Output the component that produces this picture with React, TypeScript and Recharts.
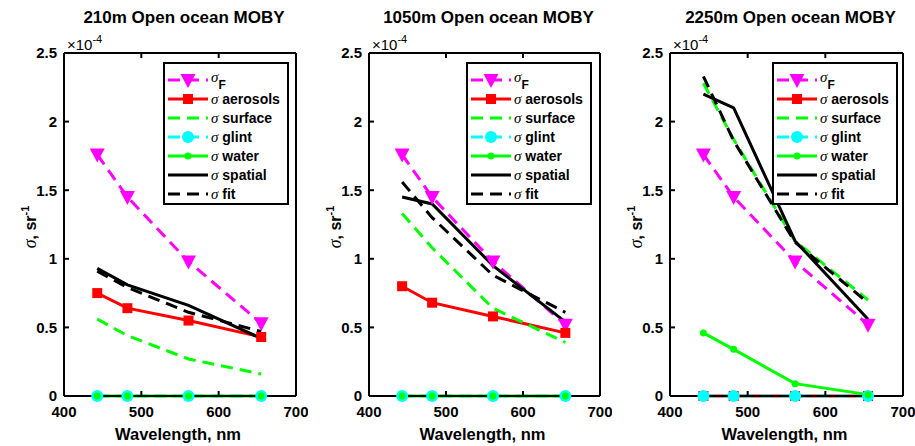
import React from 'react'
import { LineChart, Line, XAxis, YAxis, Legend } from 'recharts'

// wavelengths, nm
const wavelengths = [443, 482, 561, 655]

// all values in units of 1e-4 sr^-1
const sigmaF210 = [1.76, 1.45, 0.98, 0.53]
const aerosols210 = [0.75, 0.64, 0.55, 0.43]
const surface210 = [0.56, 0.44, 0.27, 0.16]
const glint210 = [0, 0, 0, 0]
const water210 = [0, 0, 0, 0]
const spatial210 = [0.93, 0.81, 0.66, 0.42]
const fit210 = [0.91, 0.79, 0.61, 0.47]

const sigmaF1050 = [1.76, 1.45, 0.98, 0.52]
const aerosols1050 = [0.8, 0.68, 0.58, 0.46]
const surface1050 = [1.33, 1.08, 0.64, 0.39]
const glint1050 = [0, 0, 0, 0]
const water1050 = [0, 0, 0, 0]
const spatial1050 = [1.45, 1.4, 0.95, 0.54]
const fit1050 = [1.56, 1.3, 0.88, 0.61]

const sigmaF2250 = [1.76, 1.45, 0.98, 0.52]
const aerosols2250 = [0, 0, 0, 0]
const surface2250 = [2.28, 1.87, 1.13, 0.7]
const glint2250 = [0, 0, 0, 0]
const water2250 = [0.46, 0.34, 0.09, 0.01]
const spatial2250 = [2.2, 2.1, 1.13, 0.56]
const fit2250 = [2.33, 1.86, 1.12, 0.68]

const xTicks = [400, 500, 600, 700]
const yTicks = [0, 0.5, 1, 1.5, 2, 2.5]

const SANS = '"Liberation Sans", Arial, sans-serif'
const SERIF = '"Liberation Serif", "Times New Roman", serif'
const DASH = '12 7'

type Marker = 'tri' | 'square' | 'circle' | 'dot' | 'none'
const series: { key: string; name: string; sub?: string; color: string; dash?: string; marker: Marker }[] = [
  { key: 'F', name: '', sub: 'F', color: '#ff00ff', dash: DASH, marker: 'tri' },
  { key: 'aer', name: 'aerosols', color: '#ff0000', marker: 'square' },
  { key: 'surf', name: 'surface', color: '#00ff00', dash: DASH, marker: 'none' },
  { key: 'glint', name: 'glint', color: '#00ffff', dash: DASH, marker: 'circle' },
  { key: 'water', name: 'water', color: '#00ff00', marker: 'dot' },
  { key: 'spatial', name: 'spatial', color: '#000000', marker: 'none' },
  { key: 'fit', name: 'fit', color: '#000000', dash: DASH, marker: 'none' },
]

function markerShape(m: Marker, cx: number, cy: number, color: string, key?: string) {
  if (m === 'tri')
    return <polygon key={key} points={`${cx - 7.5},${cy - 6} ${cx + 7.5},${cy - 6} ${cx},${cy + 8}`} fill={color} />
  if (m === 'square') return <rect key={key} x={cx - 5} y={cy - 5} width={10} height={10} fill={color} />
  if (m === 'circle') return <circle key={key} cx={cx} cy={cy} r={6} fill={color} />
  if (m === 'dot') return <circle key={key} cx={cx} cy={cy} r={3.5} fill={color} />
  return <g key={key} />
}

function LegendBox() {
  return (
    <svg width={126} height={143} style={{ display: 'block' }}>
      <rect x={1} y={1} width={124} height={141} fill="#fff" stroke="#000" strokeWidth={2} />
      {series.map((s, i) => {
        const y = 18 + i * 19
        return (
          <g key={s.key}>
            <line x1={5} x2={45} y1={y} y2={y} stroke={s.color} strokeWidth={3} strokeDasharray={s.dash} />
            {markerShape(s.marker, 25, y, s.color)}
            <text x={48} y={y + 5} fontFamily={SANS} fontWeight="bold" fontSize={14} fill="#000">
              <tspan fontFamily={SERIF} fontStyle="italic" fontWeight="normal" fontSize={15} dy={s.sub ? -3 : 0}>σ</tspan>
              {s.sub ? (
                <tspan fontSize={12} dy={7}>{s.sub}</tspan>
              ) : (
                <tspan> {s.name}</tspan>
              )}
            </text>
          </g>
        )
      })}
    </svg>
  )
}

type Panel = {
  title: string
  left: number
  right: number
  legendLeft: number
  values: Record<string, number[]>
}

const panels: Panel[] = [
  {
    title: '210m Open ocean MOBY',
    left: 64,
    right: 296,
    legendLeft: 163,
    values: { F: sigmaF210, aer: aerosols210, surf: surface210, glint: glint210, water: water210, spatial: spatial210, fit: fit210 },
  },
  {
    title: '1050m Open ocean MOBY',
    left: 369,
    right: 600,
    legendLeft: 466,
    values: { F: sigmaF1050, aer: aerosols1050, surf: surface1050, glint: glint1050, water: water1050, spatial: spatial1050, fit: fit1050 },
  },
  {
    title: '2250m Open ocean MOBY',
    left: 670,
    right: 903,
    legendLeft: 772,
    values: { F: sigmaF2250, aer: aerosols2250, surf: surface2250, glint: glint2250, water: water2250, spatial: spatial2250, fit: fit2250 },
  },
]

const TOP = 53
const BOTTOM = 396
const YW = 70
const XH = 30

const tickStyle = { fontFamily: SANS, fontWeight: 'bold' as const, fontSize: 15, fill: '#000' }

function PanelChart({ p }: { p: Panel }) {
  const chartLeft = p.left - YW
  const width = p.right - chartLeft + 12
  const data = wavelengths.map((wl, i) => {
    const row: Record<string, number> = { wl }
    series.forEach((s) => (row[s.key] = p.values[s.key][i]))
    return row
  })
  const mid = (p.left + p.right) / 2
  return (
    <>
      <div style={{ position: 'absolute', left: chartLeft, top: 0 }}>
        <LineChart width={width} height={446} data={data} margin={{ top: TOP - 1, right: 11, bottom: 446 - BOTTOM - XH, left: 0 }}>
          <XAxis
            dataKey="wl"
            type="number"
            domain={[400, 700]}
            ticks={xTicks}
            height={XH}
            tickSize={-5}
            tickMargin={15}
            tick={tickStyle}
            stroke="#000"
            strokeWidth={2}
            tickLine={{ stroke: '#000', strokeWidth: 2 }}
          />
          <XAxis
            xAxisId="top"
            orientation="top"
            dataKey="wl"
            type="number"
            domain={[400, 700]}
            ticks={xTicks}
            height={1}
            tickSize={-5}
            tick={() => <g />}
            stroke="#000"
            strokeWidth={2}
            tickLine={{ stroke: '#000', strokeWidth: 2 }}
          />
          <YAxis
            type="number"
            domain={[0, 2.5]}
            ticks={yTicks}
            width={YW}
            tickSize={-5}
            tickMargin={12}
            tick={tickStyle}
            stroke="#000"
            strokeWidth={2}
            tickLine={{ stroke: '#000', strokeWidth: 2 }}
            tickFormatter={(v: number) => String(v)}
          />
          <YAxis
            yAxisId="r"
            orientation="right"
            type="number"
            domain={[0, 2.5]}
            ticks={yTicks}
            width={1}
            tickSize={-5}
            tick={() => <g />}
            stroke="#000"
            strokeWidth={2}
            tickLine={{ stroke: '#000', strokeWidth: 2 }}
          />
          {series.map((s) => (
            <Line
              key={s.key}
              dataKey={s.key}
              type="linear"
              stroke={s.color}
              strokeWidth={3}
              strokeDasharray={s.dash}
              dot={s.marker === 'none' ? false : (d: any) => markerShape(s.marker, d.cx, d.cy, s.color, `${s.key}-${d.index}`)}
              activeDot={false}
              isAnimationActive={false}
            />
          ))}
          <Legend
            layout="horizontal"
            verticalAlign="middle"
            align="center"
            content={() => <LegendBox />}
            wrapperStyle={{ left: p.legendLeft - chartLeft, top: 62, width: 126, height: 143 }}
          />
        </LineChart>
      </div>
      <div
        style={{
          position: 'absolute',
          left: mid + 4,
          top: 9,
          transform: 'translateX(-50%)',
          whiteSpace: 'nowrap',
          fontFamily: SANS,
          fontWeight: 'bold',
          fontSize: 17,
          lineHeight: '17px',
        }}
      >
        {p.title}
      </div>
      <div
        style={{
          position: 'absolute',
          left: mid - 2,
          top: 426,
          transform: 'translateX(-50%)',
          whiteSpace: 'nowrap',
          fontFamily: SANS,
          fontWeight: 'bold',
          fontSize: 16.5,
          lineHeight: '16.5px',
        }}
      >
        Wavelength, nm
      </div>
      <div
        style={{
          position: 'absolute',
          left: p.left - 36,
          top: (TOP + BOTTOM) / 2 + 2,
          transform: 'translate(-50%, -50%) rotate(-90deg)',
          whiteSpace: 'nowrap',
          fontFamily: SANS,
          fontWeight: 'bold',
          fontSize: 16,
          lineHeight: '16px',
        }}
      >
        <span style={{ fontFamily: SERIF, fontStyle: 'italic', fontWeight: 'normal', fontSize: 18 }}>σ</span>, sr
        <sup style={{ fontSize: 11 }}>-1</sup>
      </div>
      <div
        style={{
          position: 'absolute',
          left: p.left + 3,
          top: 37,
          whiteSpace: 'nowrap',
          fontFamily: SANS,
          fontSize: 15,
          lineHeight: '15px',
        }}
      >
        ×10<sup style={{ fontSize: 11, verticalAlign: 'top', position: 'relative', top: -5 }}>-4</sup>
      </div>
    </>
  )
}

export default function App() {
  return (
    <div style={{ position: 'absolute', left: 0, top: 0, width: 915, height: 446, background: '#fff' }}>
      {panels.map((p) => (
        <PanelChart key={p.title} p={p} />
      ))}
    </div>
  )
}
